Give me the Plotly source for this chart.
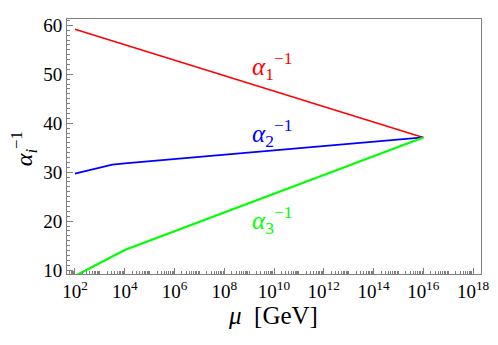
import plotly.graph_objects as go

# log10(mu / GeV) and inverse couplings
mu1_exp = [2, 16]
alpha1_inv = [59.2, 37.1]

mu2_exp = [2, 2.5, 3, 3.5, 4, 16]
alpha2_inv = [29.7, 30.35, 30.95, 31.55, 31.8, 37.1]

mu3_exp = [2, 4, 16]
alpha3_inv = [8.8, 14.1, 37.1]

# x tick exponents
tick_exp = [2, 4, 6, 8, 10, 12, 14, 16, 18]

serif = "Liberation Serif, Times New Roman, Times, serif"
frame = "#808080"

fig = go.Figure()

for exps, vals, color, width in [(mu1_exp, alpha1_inv, "#ff0000", 1.5),
                                 (mu2_exp, alpha2_inv, "#0000ff", 1.8),
                                 (mu3_exp, alpha3_inv, "#00ff00", 2.2)]:
    fig.add_trace(go.Scatter(
        x=[10.0 ** e for e in exps], y=vals,
        mode="lines",
        line=dict(color=color, width=width)
    ))

# line labels
labels = [("1", "#ff0000", 51.6),
          ("2", "#0000ff", 38.0),
          ("3", "#00ff00", 20.3)]
for idx, color, yv in labels:
    fig.add_annotation(
        x=9.92, y=yv, xref="x", yref="y",
        text="<i>α</i><sub>" + idx + "</sub><sup>−1</sup>",
        showarrow=False, font=dict(family=serif, size=25, color=color),
        xanchor="center", yanchor="middle"
    )

# axis titles
fig.add_annotation(
    x=0.498, y=-0.162, xref="paper", yref="paper",
    text="<i>μ</i>&nbsp; [GeV]", showarrow=False,
    font=dict(family=serif, size=25, color="black"),
    xanchor="center", yanchor="middle"
)
fig.add_annotation(
    x=-0.104, y=0.493, xref="paper", yref="paper",
    text="<i>α<sub>i</sub></i><sup>−1</sup>", showarrow=False, textangle=-90,
    font=dict(family=serif, size=24, color="black"),
    xanchor="center", yanchor="middle"
)

minor_x = [k * 10.0 ** n for n in range(1, 19) for k in range(2, 10)]
minor_x += [10.0 ** n for n in range(3, 19, 2)]

# page body adds an 8px offset, so the figure is drawn 8px smaller
fig.update_layout(
    width=490, height=337,
    margin=dict(l=59, r=17, t=11, b=71),
    paper_bgcolor="white", plot_bgcolor="white",
    showlegend=False,
    font=dict(family=serif, size=19, color="black"),
    xaxis=dict(
        type="log", range=[1.68, 18.32], automargin=False,
        tickmode="array",
        tickvals=[10.0 ** e for e in tick_exp],
        ticktext=["10<sup>" + str(e) + "</sup>" for e in tick_exp],
        ticks="inside", ticklen=6, tickcolor=frame,
        showline=True, linecolor=frame, linewidth=1, mirror=True,
        showgrid=False, zeroline=False,
        minor=dict(tickmode="array", tickvals=minor_x, ticks="inside",
                   ticklen=3, tickcolor=frame, showgrid=False),
        tickfont=dict(family=serif, size=19, color="black")
    ),
    yaxis=dict(
        range=[9.2, 61.3], tick0=0, dtick=10, automargin=False,
        ticks="inside", ticklen=6, tickcolor=frame,
        showline=True, linecolor=frame, linewidth=1, mirror=True,
        showgrid=False, zeroline=False,
        minor=dict(dtick=1, ticks="inside", ticklen=3, tickcolor=frame, showgrid=False),
        tickfont=dict(family=serif, size=19, color="black")
    )
)

fig.write_html("out.html")
